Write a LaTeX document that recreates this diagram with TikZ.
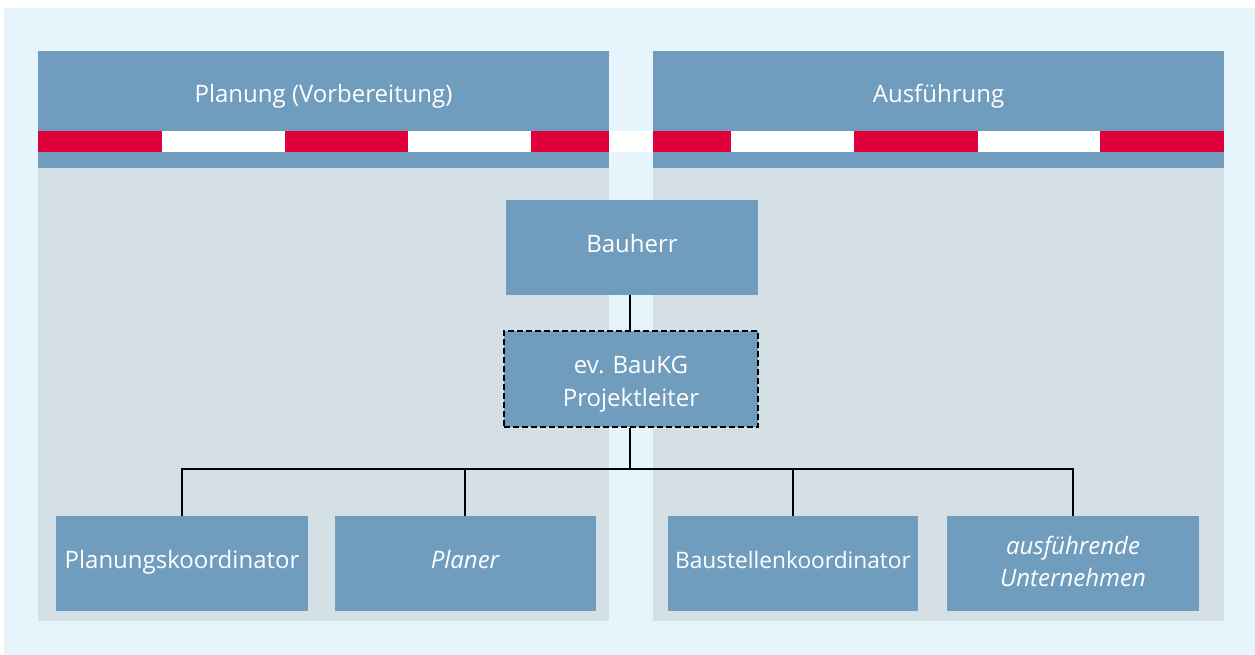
\documentclass[tikz,border=0pt]{standalone}
\usepackage{fontspec}
\setmainfont{Open Sans}
\definecolor{bgblue}{HTML}{E6F4FB}
\definecolor{hdr}{HTML}{709DBD}
\definecolor{panelgray}{HTML}{D4E0E6}
\definecolor{stripered}{HTML}{E0003C}
\tikzset{
  boxfont/.style={font=\fontsize{24}{33}\selectfont},
  oneline/.style={text height=16pt, text depth=6pt},
  orgbox/.style={fill=hdr, text=white, inner sep=0pt, boxfont, minimum height=95pt},
  boxtext/.style={text=white, inner sep=0pt, align=center, boxfont},
  hdrtext/.style={text=white, inner sep=0pt, boxfont, oneline},
  conn/.style={draw=black, line width=1.9pt},
  redseg/.style={fill=stripered},
}
\begin{document}
\begin{tikzpicture}[x=1pt,y=-1pt]
\useasboundingbox (0,0) rectangle (1255,655);
% background
\fill[bgblue] (4,8) rectangle (1255,655);
% panels
\fill[panelgray] (38,51) rectangle (609,621);
\fill[panelgray] (653,51) rectangle (1224,621);
\fill[hdr] (38,51) rectangle (609,168);
\fill[hdr] (653,51) rectangle (1224,168);
% stripes
\fill[white] (38,131) rectangle (1224,152);
\fill[redseg] (38,131) rectangle (162,152);
\fill[redseg] (285,131) rectangle (408,152);
\fill[redseg] (531,131) rectangle (609,152);
\fill[redseg] (653,131) rectangle (731,152);
\fill[redseg] (854,131) rectangle (978,152);
\fill[redseg] (1100,131) rectangle (1224,152);
% header texts
\node[hdrtext] (h1) at (323.5,98) {Planung (Vorbereitung)};
\node[hdrtext] (h2) at (938.5,98) {Ausführung};
% boxes
\node[orgbox, oneline, minimum width=252pt] (bauherr) at (632,247.5) {Bauherr};
\node[orgbox, minimum width=254pt, minimum height=96pt, draw=black, line width=2.2pt,
  dash pattern=on 6pt off 3pt] (pl) at (631,379) {};
\node[boxtext] (pltext) at ([yshift=-4.8pt]pl.center) {ev. BauKG\\Projektleiter};
\node[orgbox, oneline, minimum width=252pt] (k1) at (182,563.5) {Planungskoordinator};
\node[orgbox, oneline, minimum width=261pt] (k2) at (465,563.5) {\itshape Planer};
\node[orgbox, oneline, minimum width=250pt, font=\fontsize{22.7}{33}\selectfont] (k3) at (793,563.5) {Baustellenkoordinator};
\node[orgbox, minimum width=252pt] (k4) at (1073,563.5) {};
\node[boxtext, font=\fontsize{24}{32}\selectfont\itshape] (k4text) at ([yshift=1.6pt]k4.center) {ausführende\\Unternehmen};
% connectors
\coordinate (bus) at (630,469);
\draw[conn] (bauherr.south -| bus) -- (pl.north -| bus);
\draw[conn] (pl.south -| bus) -- (bus);
\draw[conn] ([xshift=-0.95pt]k1.north |- bus) -- ([xshift=0.95pt]k4.north |- bus);
\draw[conn] (k1.north |- bus) -- (k1.north);
\draw[conn] (k2.north |- bus) -- (k2.north);
\draw[conn] (k3.north |- bus) -- (k3.north);
\draw[conn] (k4.north |- bus) -- (k4.north);
\end{tikzpicture}
\end{document}
